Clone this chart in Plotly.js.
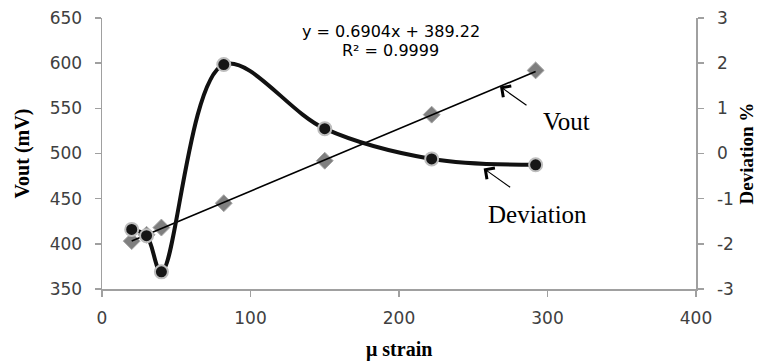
<!DOCTYPE html>
<html>
<head>
<meta charset="utf-8">
<script src="https://cdn.plot.ly/plotly-3.0.1.min.js"></script>
<style>
html,body{margin:0;padding:0;background:#fff;}
#chart{width:757px;height:361px;}
</style>
</head>
<body>
<div id="chart"></div>
<script>
// Data
var strain = [20, 30, 40, 82, 150, 222, 292];          // µ strain
var vout = [403, 410, 418, 445, 492, 543, 592];        // Vout (mV)
var deviation = [-1.68, -1.82, -2.62, 1.97, 0.55, -0.12, -0.25]; // Deviation %
var fitSlope = 0.6904;
var fitIntercept = 389.22;
var fitR2 = 0.9999;
var xTicks = [0, 100, 200, 300, 400];
var yTicks = [350, 400, 450, 500, 550, 600, 650];
var y2Ticks = [-3, -2, -1, 0, 1, 2, 3];

var fitX = [Math.min.apply(null, strain), Math.max.apply(null, strain)];
var fitY = fitX.map(function (x) { return fitSlope * x + fitIntercept; });

var serif = "Liberation Serif, Times New Roman, serif";
var sans = "DejaVu Sans, sans-serif";

var traces = [
  {
    x: strain, y: vout, type: 'scatter', mode: 'markers', name: 'Vout',
    marker: {symbol: 'diamond', size: 13, color: '#7f7f7f', line: {color: '#a6a6a6', width: 1}},
    xaxis: 'x', yaxis: 'y'
  },
  {
    x: fitX, y: fitY, type: 'scatter', mode: 'lines', name: 'Linear (Vout)',
    line: {color: '#000', width: 1.6},
    xaxis: 'x', yaxis: 'y'
  },
  {
    x: strain, y: deviation, type: 'scatter', mode: 'lines+markers', name: 'Deviation',
    line: {color: '#111', width: 4, shape: 'spline', smoothing: 1},
    marker: {symbol: 'circle', size: 13, color: '#161616', line: {color: '#bdbdbd', width: 2}},
    xaxis: 'x', yaxis: 'y2'
  }
];

var axisCommon = {
  showgrid: false, zeroline: false, showline: true,
  linecolor: '#a0a0a0', linewidth: 1.5,
  ticks: 'outside', ticklen: 6, tickcolor: '#a0a0a0', tickwidth: 1.5,
  tickfont: {family: sans, size: 17, color: '#404040'}
};

var layout = {
  width: 757, height: 361,
  margin: {l: 102, r: 61, t: 18, b: 72},
  paper_bgcolor: '#fff', plot_bgcolor: '#fff',
  showlegend: false,
  xaxis: Object.assign({}, axisCommon, {
    range: [0, 400], tickvals: xTicks, ticktext: xTicks.map(String), ticklabelstandoff: 7
  }),
  yaxis: Object.assign({}, axisCommon, {
    range: [350, 650], tickvals: yTicks, ticktext: yTicks.map(String), ticklabelstandoff: 9
  }),
  yaxis2: Object.assign({}, axisCommon, {
    range: [-3, 3], tickvals: y2Ticks, ticktext: y2Ticks.map(String),
    overlaying: 'y', side: 'right', anchor: 'x', ticklabelstandoff: 10
  }),
  annotations: [
    {xref: 'paper', yref: 'paper', x: 0.5, y: 0, yshift: -60, xanchor: 'center', yanchor: 'middle',
     text: '<b>\u03bc strain</b>', showarrow: false, font: {family: serif, size: 20, color: '#000'}},
    {xref: 'paper', yref: 'paper', x: 0, xshift: -80, y: 0.5, xanchor: 'center', yanchor: 'middle',
     text: '<b>Vout (mV)</b>', textangle: -90, showarrow: false, font: {family: serif, size: 20, color: '#000'}},
    {xref: 'paper', yref: 'paper', x: 1, xshift: 50, y: 0.5, xanchor: 'center', yanchor: 'middle',
     text: '<b>Deviation %</b>', textangle: -90, showarrow: false, font: {family: serif, size: 19, color: '#000'}},
    {xref: 'x', yref: 'y', x: 194.6, y: 635.6, xanchor: 'center', yanchor: 'middle', showarrow: false,
     text: 'y = ' + fitSlope + 'x + ' + fitIntercept, font: {family: sans, size: 16, color: '#000'}},
    {xref: 'x', yref: 'y', x: 194.6, y: 613.5, xanchor: 'center', yanchor: 'middle', showarrow: false,
     text: 'R\u00b2 = ' + fitR2, font: {family: sans, size: 16, color: '#000'}},
    {xref: 'x', yref: 'y', x: 313, y: 535, xanchor: 'center', yanchor: 'middle', showarrow: false,
     text: 'Vout', font: {family: serif, size: 25, color: '#000'}},
    {xref: 'x', yref: 'y2', x: 293, y: -1.35, xanchor: 'center', yanchor: 'middle', showarrow: false,
     text: 'Deviation', font: {family: serif, size: 25, color: '#000'}},
    {xref: 'x', yref: 'y', x: 268, y: fitSlope * 268 + fitIntercept, text: '', showarrow: true,
     arrowhead: 4, arrowsize: 2.2, arrowwidth: 1.2, arrowcolor: '#000', ax: 28, ay: 20, standoff: 0},
    {xref: 'x', yref: 'y2', x: 257, y: -0.33, text: '', showarrow: true,
     arrowhead: 4, arrowsize: 2.2, arrowwidth: 1.2, arrowcolor: '#000', ax: 28, ay: 20, standoff: 0}
  ]
};

Plotly.newPlot('chart', traces, layout, {staticPlot: true, displayModeBar: false});
</script>
</body>
</html>
